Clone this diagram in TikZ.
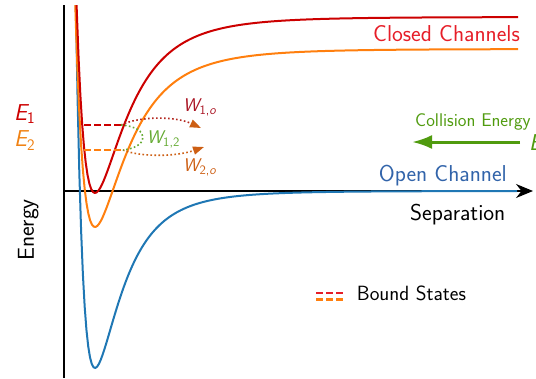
\documentclass[tikz,border=0pt]{standalone}
\usepackage{fontspec}
\usetikzlibrary{arrows.meta}
\definecolor{redc}{RGB}{204,0,0}
\definecolor{orangec}{RGB}{255,127,14}
\definecolor{bluec}{RGB}{31,119,180}
\definecolor{closedtxt}{RGB}{230,30,40}
\definecolor{opentxt}{RGB}{50,100,170}
\definecolor{greenc}{RGB}{80,155,15}
\definecolor{wgreen}{RGB}{100,170,50}
\definecolor{wred}{RGB}{170,20,35}
\definecolor{worange}{RGB}{205,95,20}
\definecolor{eorange}{RGB}{240,130,20}
\tikzset{
  curve/.style={line width=2pt, line join=round},
  lbl/.style={inner sep=0pt},
  bigtxt/.style={font=\sffamily\fontsize{23}{27}\selectfont},
  midtxt/.style={font=\sffamily\fontsize{18.4}{22}\selectfont},
  legtxt/.style={font=\sffamily\fontsize{20.6}{24}\selectfont},
  bound/.style={line width=2pt, dash pattern=on 7pt off 3pt},
  coup/.style={line width=1.6pt, dash pattern=on 1.6pt off 2.4pt},
}
\begin{document}
\begin{tikzpicture}[x=1pt,y=-1pt]
\useasboundingbox (0,0) rectangle (536,378);
% axes
\coordinate (ytop) at (64,5);
\coordinate (ybot) at (64,378);
\coordinate (xleft) at (64,191);
\coordinate (xright) at (533,191);
\draw[line width=1.3pt] (ytop) -- (ybot);
\draw[line width=1.3pt, -{Stealth[length=17pt,width=14pt]}] (xleft) -- (xright);
% potential curves
\begin{scope}
\clip (64,5) rectangle (518,378);
\draw[curve, bluec] plot[domain=74:517, samples=250] (\x, {191 - 177*((139/(\x+44))^12 - 2*(139/(\x+44))^6)});
\draw[curve, orangec] plot[domain=74:520, samples=250] (\x, {49 - 178*((168/(\x+73))^12 - 2*(168/(\x+73))^6)});
\draw[curve, redc] plot[domain=75:520, samples=250] (\x, {17 - 176*((165/(\x+70))^12 - 2*(165/(\x+70))^6)});
\end{scope}
% channel labels
\node[lbl, bigtxt, text=closedtxt, anchor=base east] (closed) at (520,41.7) {Closed Channels};
\node[lbl, bigtxt, text=opentxt, anchor=base east] (open) at (507,181.7) {Open Channel};
\node[lbl, bigtxt, anchor=base west] (sep) at (410,220) {Separation};
\node[lbl, bigtxt, rotate=90, anchor=base] (energy) at (34,230) {Energy};
% bound state energies
\node[lbl, bigtxt, text=redc, anchor=base west] (e1) at (14,120) {\itshape E\textsubscript{\upshape 1}};
\node[lbl, bigtxt, text=eorange, anchor=base west] (e2) at (14,146.7) {\itshape E\textsubscript{\upshape 2}};
\coordinate (b1l) at (84,125);
\coordinate (b1r) at (121,125);
\coordinate (b2l) at (84,150);
\coordinate (b2r) at (123,150);
\draw[bound, redc] (b1l) -- (b1r);
\draw[bound, orangec] (b2l) -- (b2r);
% couplings
\coordinate (t1) at (201,128);
\coordinate (t2) at (204,147);
\draw[coup, wred!75!worange, -{Triangle[length=11pt,width=8pt,color=worange]}] (b1r) .. controls (140,116) and (175,116) .. (t1);
\draw[coup, worange, -{Triangle[length=11pt,width=8pt,color=worange]}] (b2r) .. controls (140,157) and (175,157) .. (t2);
\draw[coup, wgreen] (b1r) .. controls (150,127) and (150,147) .. (b2r);
\node[lbl, midtxt, text=wred, anchor=base west] (w1o) at (183,111.7) {\itshape W\textsubscript{\upshape 1,\itshape o}};
\node[lbl, midtxt, text=wgreen, anchor=base west] (w12) at (146.7,143.3) {\itshape W\textsubscript{\upshape 1,2}};
\node[lbl, midtxt, text=worange, anchor=base west] (w2o) at (183,171.7) {\itshape W\textsubscript{\upshape 2,\itshape o}};
% collision energy
\node[lbl, midtxt, text=greenc, anchor=base west] (coll) at (415,126.7) {Collision Energy};
\node[lbl, bigtxt, text=greenc, anchor=base west] (ec) at (529,150) {\itshape E};
\coordinate (ga) at (520,142);
\coordinate (gb) at (412,142);
\draw[line width=3pt, greenc, -{Latex[length=20pt,width=14pt]}] (ga) -- (gb);
% legend
\coordinate (l1a) at (316,293);
\coordinate (l1b) at (346,293);
\coordinate (l2a) at (316,299.5);
\coordinate (l2b) at (346,299.5);
\draw[bound, closedtxt, line width=2.4pt] (l1a) -- (l1b);
\draw[bound, orangec, line width=2.4pt] (l2a) -- (l2b);
\node[lbl, legtxt, anchor=base west] (leg) at (356.7,300.7) {Bound States};
\end{tikzpicture}
\end{document}
